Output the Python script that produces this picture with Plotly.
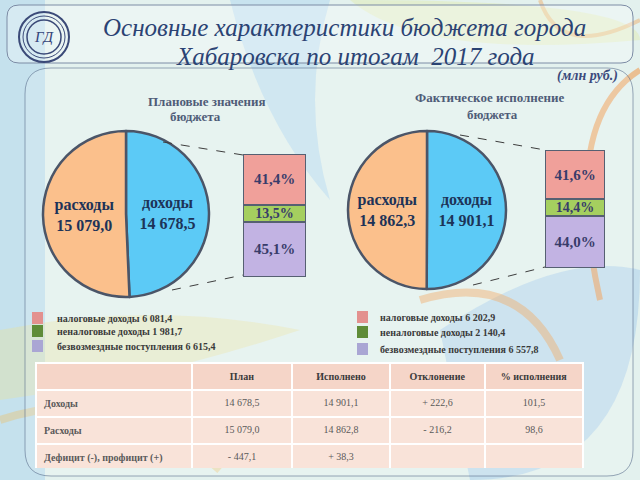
import plotly.graph_objects as go

W, H = 640, 480


def px(x):
    return x / W


def py(y):
    return 1 - y / H


def fmt(v):
    return f"{v:,.1f}".replace(",", " ").replace(".", ",")


# ---------------- data ----------------
pie_labels = ["доходы", "расходы"]
plan_values = [14678.5, 15079.0]
fact_values = [14901.1, 14862.3]

income_kinds = ["безвозмездные поступления", "неналоговые доходы", "налоговые доходы"]
plan_income = [6615.4, 1981.7, 6081.4]
fact_income = [6557.8, 2140.4, 6202.9]
plan_share = [45.1, 13.5, 41.4]
fact_share = [44.0, 14.4, 41.6]
plan_share_text = ["45,1%", "13,5%", "41,4%"]
fact_share_text = ["44,0%", "14,4%", "41,6%"]

table_header = ["", "План", "Исполнено", "Отклонение", "% исполнения"]
row_names = ["Доходы", "Расходы", "Дефицит (-), профицит (+)"]
plan_col = ["14 678,5", "15 079,0", "- 447,1"]
done_col = ["14 901,1", "14 862,8", "+ 38,3"]
dev_col = ["+ 222,6", "- 216,2", ""]
pct_col = ["101,5", "98,6", ""]

# ---------------- styles ----------------
SERIF = "Liberation Serif, Times New Roman, serif"
pie_colors = ["#5ccaf6", "#fbc08c"]
bar_colors = ["#c2b3e3", "#a5cf5f", "#f0a09a"]
legend_colors = ["#aaa6d4", "#5f8c38", "#e3918f"]

fig = go.Figure()


def pie_domain(cx, cy, r):
    return dict(x=[px(cx - r), px(cx + r)], y=[py(cy + r), py(cy - r)])


for vals, (cx, cy, r) in [(plan_values, (126, 214, 83)), (fact_values, (427, 210, 79))]:
    fig.add_trace(go.Pie(
        labels=pie_labels, values=vals, sort=False, direction="clockwise", rotation=0,
        marker=dict(colors=pie_colors, line=dict(color="#4b5568", width=2.5)),
        texttemplate="<b>%{label}<br>%{value:,.1f}</b>", textposition="inside",
        insidetextorientation="horizontal",
        textfont=dict(family=SERIF, size=16, color="#1d3358"),
        domain=pie_domain(cx, cy, r), showlegend=False, hoverinfo="label+value",
    ))

# stacked bars
bar_boxes = [((243, 306), (154, 277)), ((545, 605), (150, 268))]
for i, (shares, texts, amounts) in enumerate([(plan_share, plan_share_text, plan_income),
                                               (fact_share, fact_share_text, fact_income)]):
    xa = "x" if i == 0 else "x2"
    ya = "y" if i == 0 else "y2"
    for k in range(3):
        fig.add_trace(go.Bar(
            x=[0], y=[shares[k]], width=1, text=[f"<b>{texts[k]}</b>"], textposition="inside",
            insidetextanchor="middle", constraintext="none",
            textfont=dict(family=SERIF, size=15 if k != 1 else 14, color="#383c6a"),
            marker=dict(color=bar_colors[k], line=dict(color="#566072", width=2)),
            name=f"{income_kinds[k]} {fmt(amounts[k])}",
            xaxis=xa, yaxis=ya, showlegend=False, hoverinfo="name",
        ))

axis_common = dict(visible=False, fixedrange=True)
(lx, ly), (rx, ry) = bar_boxes
fig.update_layout(
    xaxis=dict(domain=[px(lx[0]), px(lx[1])], range=[-0.5, 0.5], anchor="y", **axis_common),
    yaxis=dict(domain=[py(ly[1]), py(ly[0])], range=[0, 100], anchor="x", **axis_common),
    xaxis2=dict(domain=[px(rx[0]), px(rx[1])], range=[-0.5, 0.5], anchor="y2", **axis_common),
    yaxis2=dict(domain=[py(ry[1]), py(ry[0])], range=[0, 100], anchor="x2", **axis_common),
    barmode="stack",
)

# table
col_w = [156, 100, 98, 95, 98]
fig.add_trace(go.Table(
    domain=dict(x=[px(36), px(583)], y=[py(468), py(363)]),
    columnwidth=col_w,
    header=dict(values=[f"<b>{h}</b>" if h else "" for h in table_header],
                fill_color="#f5d5c8", line=dict(color="#ffffff", width=2),
                align="center", height=20,
                font=dict(family=SERIF, size=10, color="#3a3a3a")),
    cells=dict(values=[[f"<b>{r}</b>" for r in row_names], plan_col, done_col, dev_col, pct_col],
               fill_color="#f9e3d9", line=dict(color="#ffffff", width=2),
               align=["left", "center", "center", "center", "center"], height=20,
               font=dict(family=SERIF, size=10, color="#5a5a5a")),
))


# ---------------- decoration ----------------
def rrect(x0, y0, x1, y1, r):
    return (f"M {px(x0 + r)} {py(y0)} L {px(x1 - r)} {py(y0)} "
            f"Q {px(x1)} {py(y0)} {px(x1)} {py(y0 + r)} L {px(x1)} {py(y1 - r)} "
            f"Q {px(x1)} {py(y1)} {px(x1 - r)} {py(y1)} L {px(x0 + r)} {py(y1)} "
            f"Q {px(x0)} {py(y1)} {px(x0)} {py(y1 - r)} L {px(x0)} {py(y0 + r)} "
            f"Q {px(x0)} {py(y0)} {px(x0 + r)} {py(y0)} Z")


def curve(pts):
    s = f"M {px(pts[0][0])} {py(pts[0][1])}"
    for i in range(1, len(pts) - 1, 2):
        s += f" Q {px(pts[i][0])} {py(pts[i][1])} {px(pts[i+1][0])} {py(pts[i+1][1])}"
    return s


shapes = []
shapes.append(dict(type="rect", xref="paper", yref="paper", x0=0, x1=px(45), y0=0, y1=1,
                   fillcolor="rgba(140,195,235,0.35)", line_width=0, layer="below"))
shapes.append(dict(type="path", xref="paper", yref="paper",
                   path=curve([(230, 0), (260, 120), (330, 200), (300, 100), (330, 0)]) + " Z",
                   fillcolor="rgba(150,200,240,0.35)", line_width=0, layer="below"))
shapes.append(dict(type="path", xref="paper", yref="paper",
                   path=curve([(350, 0), (420, 60), (640, 40), (640, 0), (350, 0)]) + " Z",
                   fillcolor="rgba(225,235,170,0.45)", line_width=0, layer="below"))
shapes.append(dict(type="path", xref="paper", yref="paper",
                   path=curve([(440, 330), (560, 250), (640, 270), (640, 480), (470, 480)]) + " Z",
                   fillcolor="rgba(140,190,235,0.35)", line_width=0, layer="below"))
shapes.append(dict(type="path", xref="paper", yref="paper",
                   path=curve([(0, 330), (150, 300), (300, 330), (150, 380), (0, 400)]) + " Z",
                   fillcolor="rgba(235,225,150,0.35)", line_width=0, layer="below"))
for pts, col, w in [
    ([(640, 70), (560, 120), (600, 300)], "rgba(240,150,70,0.55)", 6),
    ([(420, 300), (520, 270), (560, 360)], "rgba(240,160,80,0.45)", 8),
    ([(0, 420), (120, 380), (220, 470)], "rgba(240,190,90,0.35)", 8),
    ([(640, 20), (560, 60), (540, 0)], "rgba(240,160,80,0.4)", 4),
]:
    shapes.append(dict(type="path", xref="paper", yref="paper", path=curve(pts),
                       line=dict(color=col, width=w), layer="below"))

shapes.append(dict(type="path", xref="paper", yref="paper", path=rrect(25, 68, 633, 476, 26),
                   fillcolor="rgba(255,255,255,0.15)", line=dict(color="rgba(90,110,140,0.6)", width=1),
                   layer="below"))
shapes.append(dict(type="path", xref="paper", yref="paper", path=rrect(7, 5, 633, 63, 12),
                   fillcolor="rgba(255,255,255,0.3)", line=dict(color="#7d8ca5", width=1),
                   layer="below"))
for r, w in [(25, 2), (21, 1), (17, 1.5)]:
    shapes.append(dict(type="circle", xref="paper", yref="paper",
                       x0=px(44 - r), x1=px(44 + r), y0=py(37 + r), y1=py(37 - r),
                       line=dict(color="#3b4a78", width=w), fillcolor="rgba(0,0,0,0)"))

for (x0, y0, x1, y1) in [(163, 142, 243, 155), (172, 290, 243, 275),
                         (460, 135, 545, 150), (473, 285, 545, 267)]:
    shapes.append(dict(type="line", xref="paper", yref="paper", x0=px(x0), y0=py(y0),
                       x1=px(x1), y1=py(y1), line=dict(color="#3d3d3d", width=1, dash="dash")))

annotations = []


def ann(x, y, text, size, color, family=SERIF, xanchor="center"):
    annotations.append(dict(xref="paper", yref="paper", x=px(x), y=py(y), text=text,
                            showarrow=False, xanchor=xanchor, yanchor="middle",
                            font=dict(family=family, size=size, color=color)))


ann(344, 27, "<i>Основные характеристики бюджета города</i>", 25, "#2b4373")
ann(355, 56, "<i>Хабаровска по итогам  2017 года</i>", 25, "#2b4373")
ann(587, 76, "<b><i>(млн руб.)</i></b>", 14, "#3b4a7c")
ann(44, 37, "<i>ГД</i>", 15, "#34447a")
ann(207, 101, "<b>Плановые значения</b>", 13, "#4f5c78")
ann(195, 116, "<b>бюджета</b>", 13, "#4f5c78")
ann(490, 98, "<b>Фактическое исполнение</b>", 13, "#4f5c78")
ann(492, 114, "<b>бюджета</b>", 13, "#4f5c78")

# manual legends (square + label), built from the data arrays
legend_sets = [
    (plan_income, 32, 55, [318, 331, 346]),
    (fact_income, 357, 378, [317, 332, 349]),
]
for amounts, sx, tx, rows in legend_sets:
    for k_draw, k in enumerate([2, 1, 0]):
        y = rows[k_draw]
        shapes.append(dict(type="rect", xref="paper", yref="paper",
                           x0=px(sx), x1=px(sx + 11), y0=py(y + 6), y1=py(y - 6),
                           fillcolor=legend_colors[k], line_width=0))
        ann(tx, y, f"<b>{income_kinds[k]} {fmt(amounts[k])}</b>", 10, "#3a3a3a", xanchor="left")

fig.update_layout(
    width=W, height=H, margin=dict(l=0, r=0, t=0, b=0),
    paper_bgcolor="#e3f1ee", plot_bgcolor="rgba(0,0,0,0)",
    separators=", ",
    shapes=shapes, annotations=annotations,
    showlegend=False,
)

fig.write_html("out.html", config={"displayModeBar": False},
               post_script="document.body.style.margin='0';document.body.style.overflow='hidden';")
